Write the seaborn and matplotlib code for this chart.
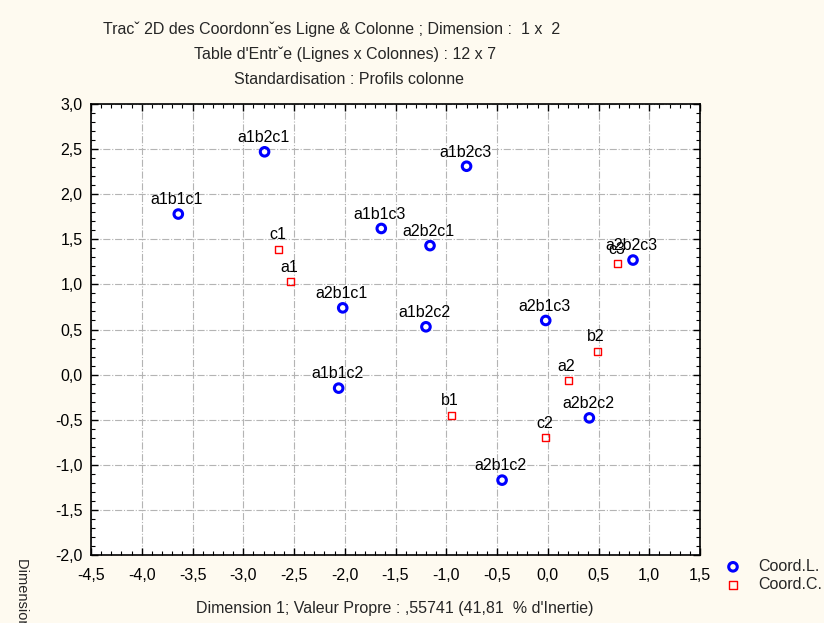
import numpy as np
import pandas as pd
import matplotlib
matplotlib.use('Agg')
import matplotlib.pyplot as plt
import seaborn as sns
from matplotlib.ticker import MultipleLocator, FuncFormatter

# ============================================================================
# DATA
# ============================================================================

row_labels = ['a1b1c1', 'a1b2c1', 'a1b2c3', 'a1b1c3', 'a2b2c1', 'a2b1c1',
              'a1b2c2', 'a2b1c3', 'a2b2c3', 'a1b1c2', 'a2b2c2', 'a2b1c2']
row_dim1 = [-3.64, -2.79, -0.80, -1.64, -1.16, -2.02,
            -1.20, -0.02, 0.84, -2.06, 0.41, -0.45]
row_dim2 = [1.78, 2.47, 2.31, 1.62, 1.43, 0.74,
            0.53, 0.60, 1.27, -0.15, -0.48, -1.17]

col_labels = ['c1', 'a1', 'c3', 'b2', 'a2', 'b1', 'c2']
col_dim1 = [-2.65, -2.53, 0.69, 0.49, 0.20, -0.95, -0.02]
col_dim2 = [1.39, 1.03, 1.23, 0.26, -0.07, -0.45, -0.70]

title_lines = ["Trac\u02c7 2D des Coordonn\u02c7es Ligne & Colonne ; Dimension :  1 x  2",
               "Table d'Entr\u02c7e (Lignes x Colonnes) : 12 x 7",
               "Standardisation : Profils colonne"]
title_x = [332, 345, 349]
xlabel = "Dimension 1; Valeur Propre : ,55741 (41,81  % d'Inertie)"
ylabel = "Dimension 2; Valeur Propre : ,27154 (20,37  % d'Inertie)"

df_rows = pd.DataFrame({'dim1': row_dim1, 'dim2': row_dim2, 'label': row_labels})
df_cols = pd.DataFrame({'dim1': col_dim1, 'dim2': col_dim2, 'label': col_labels})

# ============================================================================
# PLOT
# ============================================================================

sns.set_style('white')
plt.rcParams['font.family'] = ['Liberation Sans', 'DejaVu Sans']
fs = 11.5

bg = '#FEFAF0'
fig = plt.figure(figsize=(8.24, 6.23), dpi=100, facecolor=bg)
ax = fig.add_axes([91 / 824, 1 - 555 / 623, 609 / 824, 451 / 623])
ax.set_facecolor('white')

sns.scatterplot(data=df_rows, x='dim1', y='dim2', ax=ax, marker='o', s=38,
                facecolor='none', edgecolor='#0000FF', linewidth=2.2,
                label='Coord.L.', zorder=3)
sns.scatterplot(data=df_cols, x='dim1', y='dim2', ax=ax, marker='s', s=26,
                facecolor='none', edgecolor='#FF0000', linewidth=1.0,
                label='Coord.C.', zorder=3)

for df in (df_rows, df_cols):
    for _, r in df.iterrows():
        ax.annotate(r['label'], (r['dim1'], r['dim2']), xytext=(-1, 7),
                    textcoords='offset points', ha='center', va='baseline',
                    fontsize=fs, color='black')

ax.set_xlim(-4.5, 1.5)
ax.set_ylim(-2.0, 3.0)
ax.xaxis.set_major_locator(MultipleLocator(0.5))
ax.yaxis.set_major_locator(MultipleLocator(0.5))
ax.xaxis.set_minor_locator(MultipleLocator(0.1))
ax.yaxis.set_minor_locator(MultipleLocator(0.1))
fmt = FuncFormatter(lambda v, p: f"{v:.1f}".replace('.', ',').replace('-0,0', '0,0'))
ax.xaxis.set_major_formatter(fmt)
ax.yaxis.set_major_formatter(fmt)
ax.tick_params(which='both', direction='in', top=True, right=True,
               bottom=True, left=True, labelsize=fs, colors='black')
ax.tick_params(which='major', length=5, width=1)
ax.tick_params(which='minor', length=3, width=0.8)
ax.tick_params(axis='x', pad=9)
ax.tick_params(axis='y', pad=6)

ax.grid(True, which='major', linestyle='-.', color='#B4B4B4', linewidth=0.8)
ax.set_axisbelow(True)
for s in ax.spines.values():
    s.set_color('black')
    s.set_linewidth(1.2)

ax.set_xlabel('')
ax.set_ylabel('')
fig.text(395 / 824, 1 - 609 / 623, xlabel, ha='center', va='center', fontsize=fs)
fig.text(22 / 824, 1 - 558 / 623, ylabel, rotation=270, ha='center', va='top', fontsize=10.5)

for i, line in enumerate(title_lines):
    fig.text(title_x[i] / 824, 1 - (29 + 25 * i) / 623, line,
             ha='center', va='center', fontsize=fs)

leg = ax.legend(loc='upper left', bbox_to_anchor=(725 / 824, 1 - 559 / 623),
                bbox_transform=fig.transFigure, frameon=False, fontsize=fs,
                handlelength=1.0, handletextpad=1.06, labelspacing=0.2,
                borderaxespad=0, borderpad=0)

fig.savefig('out.png', dpi=100, facecolor=bg)
